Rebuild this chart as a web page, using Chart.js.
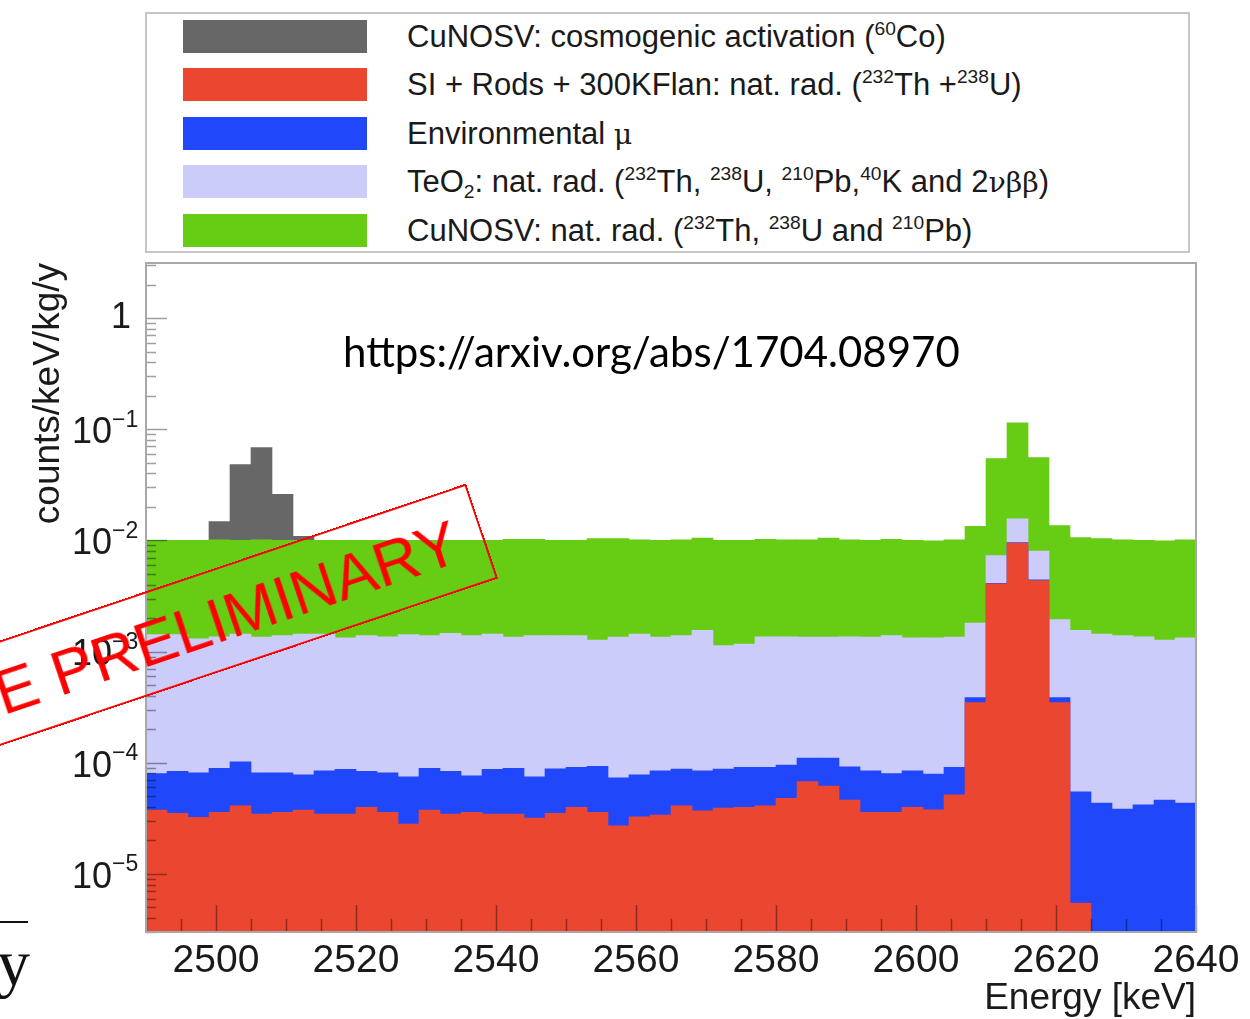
<!DOCTYPE html>
<html>
<head>
<meta charset="utf-8">
<script src="https://cdn.jsdelivr.net/npm/chart.js@4.4.1/dist/chart.umd.min.js"></script>
<style>
  body { margin: 0; background: #fff; width: 1250px; height: 1019px; overflow: hidden; position: relative;
         font-family: Arial, "Liberation Sans", Helvetica, sans-serif; }
  #wrap { position: absolute; left: 0; top: 0; width: 1250px; height: 1019px; }
  .legend { position: absolute; left: 145px; top: 12px; width: 1041px; height: 237px; border: 2px solid #c6c6c6; background: #fff; }
  .swatch { position: absolute; left: 36px; width: 184px; height: 33px; }
  .label { position: absolute; left: 260px; height: 33px; line-height: 33px; font-size: 31px; color: #1a1a1a; white-space: nowrap; }
  .label sup { font-size: 0.62em; vertical-align: 0.6em; line-height: 0; }
  .label sub { font-size: 0.62em; vertical-align: -0.3em; line-height: 0; }
  .greek { font-family: "DejaVu Serif", "Liberation Serif", serif; font-size: 0.92em; }
  .url { position: absolute; left: 343px; top: 326px; font-family: Lato, "Open Sans", sans-serif; font-size: 42px; color: #000; white-space: nowrap; }
  .stamp { position: absolute; left: -418px; top: 481px; width: 900px; height: 100px; box-sizing: border-box;
           border: 2px solid #ff0000; transform-origin: 100% 50%; transform: rotate(-18.6deg);
           color: #ff0000; font-size: 63px; line-height: 96px; text-align: right; padding-right: 25px; white-space: nowrap; }
  .slide-rule { position: absolute; left: 0; top: 921px; width: 28px; height: 2px; background: #111; }
  .slide-y { position: absolute; left: -3px; top: 925px; font-family: "Liberation Serif", "DejaVu Serif", serif; font-size: 66px; color: #111; }
</style>
</head>
<body>
<div id="wrap"><canvas id="spectrum"></canvas></div>

<div class="legend">
  <div class="swatch" style="top:6px;background:#676767"></div>
  <div class="label" style="top:6px">CuNOSV: cosmogenic activation (<sup>60</sup>Co)</div>
  <div class="swatch" style="top:54px;background:#eb462f"></div>
  <div class="label" style="top:54px">SI + Rods + 300KFlan: nat. rad. (<sup>232</sup>Th +<sup>238</sup>U)</div>
  <div class="swatch" style="top:103px;background:#2147fb"></div>
  <div class="label" style="top:103px">Environmental <span class="greek">μ</span></div>
  <div class="swatch" style="top:151px;background:#ccccfa"></div>
  <div class="label" style="top:151px">TeO<sub>2</sub>: nat. rad. (<sup>232</sup>Th, <sup>238</sup>U, <sup>210</sup>Pb,<sup>40</sup>K and 2<span class="greek">νββ</span>)</div>
  <div class="swatch" style="top:200px;background:#66cc14"></div>
  <div class="label" style="top:200px">CuNOSV: nat. rad. (<sup>232</sup>Th, <sup>238</sup>U and <sup>210</sup>Pb)</div>
</div>

<div class="url">https://arxiv.org/abs/1704.08970</div>
<div class="stamp">E PRELIMINARY</div>
<div class="slide-rule"></div>
<div class="slide-y">y</div>

<script>
// 3 keV bins from 2490 to 2640 keV
const binStart = 2490;
const binWidth = 3;

// upper edge of each stacked layer, counts/keV/kg/y (null = layer empty in that bin)
const siRodsTop = [
  3.75e-5, 3.50e-5, 3.22e-5, 3.57e-5, 4.10e-5, 3.45e-5, 3.57e-5, 3.75e-5, 3.45e-5, 3.45e-5,
  3.96e-5, 3.57e-5, 2.80e-5, 3.75e-5, 3.45e-5, 3.57e-5, 3.45e-5, 3.45e-5, 3.17e-5, 3.50e-5,
  3.96e-5, 3.57e-5, 2.71e-5, 3.26e-5, 3.38e-5, 4.10e-5, 3.70e-5, 3.91e-5, 3.96e-5, 4.10e-5,
  4.77e-5, 6.75e-5, 6.17e-5, 4.61e-5, 3.57e-5, 3.57e-5, 3.96e-5, 3.77e-5, 5.15e-5, 3.47e-4,
  4.07e-3, 9.46e-3, 4.36e-3, 3.47e-4, 5.45e-6, null, null, null, null, null
];
const envMuTop = [
  8.00e-5, 8.36e-5, 8.10e-5, 8.90e-5, 1.02e-4, 8.10e-5, 8.10e-5, 7.80e-5, 8.47e-5, 8.70e-5,
  8.36e-5, 8.10e-5, 7.48e-5, 8.90e-5, 8.36e-5, 7.63e-5, 8.70e-5, 8.90e-5, 7.48e-5, 8.80e-5,
  9.08e-5, 9.27e-5, 7.30e-5, 7.80e-5, 8.47e-5, 8.77e-5, 8.47e-5, 8.77e-5, 9.08e-5, 9.08e-5,
  9.53e-5, 1.10e-4, 1.10e-4, 9.20e-5, 8.47e-5, 8.00e-5, 8.47e-5, 7.90e-5, 9.08e-5, 3.85e-4,
  4.12e-3, 9.55e-3, 4.42e-3, 3.85e-4, 5.48e-5, 4.33e-5, 3.83e-5, 4.18e-5, 4.61e-5, 4.33e-5
];
const teo2Top = [
  1.42e-3, 1.42e-3, 1.30e-3, 1.36e-3, 1.44e-3, 1.35e-3, 1.39e-3, 1.44e-3, 1.44e-3, 1.33e-3,
  1.39e-3, 1.36e-3, 1.42e-3, 1.39e-3, 1.46e-3, 1.39e-3, 1.44e-3, 1.35e-3, 1.39e-3, 1.39e-3,
  1.39e-3, 1.27e-3, 1.35e-3, 1.44e-3, 1.35e-3, 1.39e-3, 1.55e-3, 1.13e-3, 1.17e-3, 1.36e-3,
  1.36e-3, 1.35e-3, 1.35e-3, 1.36e-3, 1.35e-3, 1.39e-3, 1.33e-3, 1.33e-3, 1.35e-3, 1.80e-3,
  7.32e-3, 1.56e-2, 8.00e-3, 1.94e-3, 1.55e-3, 1.44e-3, 1.39e-3, 1.36e-3, 1.27e-3, 1.33e-3
];
const cuNatTop = [
  1.00e-2, 1.00e-2, 1.00e-2, 1.01e-2, 1.00e-2, 1.01e-2, 1.00e-2, 1.00e-2, 1.00e-2, 1.00e-2,
  1.00e-2, 1.00e-2, 1.00e-2, 1.00e-2, 1.00e-2, 1.00e-2, 1.00e-2, 1.02e-2, 1.02e-2, 1.00e-2,
  1.00e-2, 1.04e-2, 1.04e-2, 1.01e-2, 1.00e-2, 1.01e-2, 1.05e-2, 1.00e-2, 1.00e-2, 1.02e-2,
  1.01e-2, 1.01e-2, 1.05e-2, 1.01e-2, 1.00e-2, 1.02e-2, 1.00e-2, 0.99e-2, 1.01e-2, 1.34e-2,
  5.44e-2, 0.114, 5.56e-2, 1.36e-2, 1.06e-2, 1.04e-2, 1.01e-2, 1.00e-2, 0.99e-2, 1.01e-2
];
const cuCosmoTop = [
  null, null, null, 1.48e-2, 4.81e-2, 6.84e-2, 2.60e-2, 1.09e-2, null, null,
  null, null, null, null, null, null, null, null, null, null,
  null, null, null, null, null, null, null, null, null, null,
  null, null, null, null, null, null, null, null, null, null,
  null, null, null, null, null, null, null, null, null, null
];

const xTickValues = [2500, 2520, 2540, 2560, 2580, 2600, 2620, 2640];
const yDecades = [0, -1, -2, -3, -4, -5];
const yMin = 3e-6, yMax = 3.13;
const sans = 'Arial, "Liberation Sans", Helvetica, sans-serif';

const toPoints = arr => arr.map((y, i) => ({ x: binStart + binWidth * (i + 0.5), y }));

// ROOT-style frame, inward ticks and 10^n labels
const rootFrame = {
  id: 'rootFrame',
  afterDatasetsDraw(chart) {
    const { ctx, chartArea: a, scales: { x, y } } = chart;
    ctx.save();
    ctx.lineWidth = 1.5;
    ctx.strokeStyle = 'rgba(0,0,0,0.38)';
    ctx.beginPath();
    for (let v = binStart; v <= 2640; v += 5) {
      const px = Math.round(x.getPixelForValue(v)) + 0.5;
      const len = v % 20 === 0 ? 27 : 13;
      ctx.moveTo(px, a.bottom);
      ctx.lineTo(px, a.bottom - len);
    }
    for (let e = -6; e <= 0; e++) {
      for (let m = 1; m <= 9; m++) {
        const v = m * Math.pow(10, e);
        if (v < yMin || v > yMax) continue;
        const py = Math.round(y.getPixelForValue(v)) + 0.5;
        ctx.moveTo(a.left, py);
        ctx.lineTo(a.left + (m === 1 ? 21 : 10), py);
      }
    }
    ctx.stroke();

    ctx.strokeStyle = '#a8a8a8';
    ctx.lineWidth = 2;
    ctx.strokeRect(a.left, a.top, a.right - a.left, a.bottom - a.top);

    ctx.fillStyle = '#1a1a1a';
    ctx.textBaseline = 'middle';
    yDecades.forEach(e => {
      const py = y.getPixelForValue(Math.pow(10, e));
      ctx.font = '36px ' + sans;
      ctx.textAlign = 'right';
      if (e === 0) {
        ctx.fillText('1', 131, py);
        return;
      }
      ctx.fillText('10', 112, py + 4);
      ctx.font = '23px ' + sans;
      ctx.textAlign = 'left';
      ctx.fillText('\u2212' + Math.abs(e), 112, py - 9);
    });
    ctx.restore();
  }
};

const layer = (label, data, color) => ({
  label, data: toPoints(data), backgroundColor: color, borderWidth: 0,
  barPercentage: 1, categoryPercentage: 1, grouped: false
});

new Chart(document.getElementById('spectrum'), {
  type: 'bar',
  data: {
    // first dataset is painted on top
    datasets: [
      layer('SI + Rods + 300KFlan', siRodsTop, '#eb462f'),
      layer('Environmental mu', envMuTop, '#2147fb'),
      layer('TeO2 nat. rad.', teo2Top, '#ccccfa'),
      layer('CuNOSV nat. rad.', cuNatTop, '#66cc14'),
      layer('CuNOSV cosmogenic', cuCosmoTop, '#676767')
    ]
  },
  options: {
    responsive: true,
    maintainAspectRatio: false,
    animation: false,
    layout: { padding: { top: 263, right: 54, left: 0, bottom: 0 } },
    plugins: { legend: { display: false }, tooltip: { enabled: false } },
    scales: {
      x: {
        type: 'linear',
        min: binStart,
        max: 2640,
        offset: false,
        grid: { display: false, drawTicks: false },
        border: { display: false },
        afterBuildTicks: s => { s.ticks = xTickValues.map(value => ({ value })); },
        afterFit: s => { s.height = 87; },
        ticks: {
          autoSkip: false, maxRotation: 0, padding: 6, color: '#1a1a1a',
          font: { family: sans, size: 39 },
          callback: v => String(v)
        },
        title: {
          display: true, text: 'Energy [keV]', align: 'end', color: '#1a1a1a',
          font: { family: sans, size: 37 },
          padding: { top: 0, bottom: -2 }
        }
      },
      y: {
        type: 'logarithmic',
        min: yMin,
        max: yMax,
        grid: { display: false, drawTicks: false },
        border: { display: false },
        ticks: { display: false },
        afterFit: s => { s.width = 146; },
        title: {
          display: true, text: 'counts/keV/kg/y', align: 'end', color: '#1a1a1a',
          font: { family: sans, size: 37 },
          padding: { top: 27, bottom: 0 }
        }
      }
    }
  },
  plugins: [rootFrame]
});
</script>
</body>
</html>
